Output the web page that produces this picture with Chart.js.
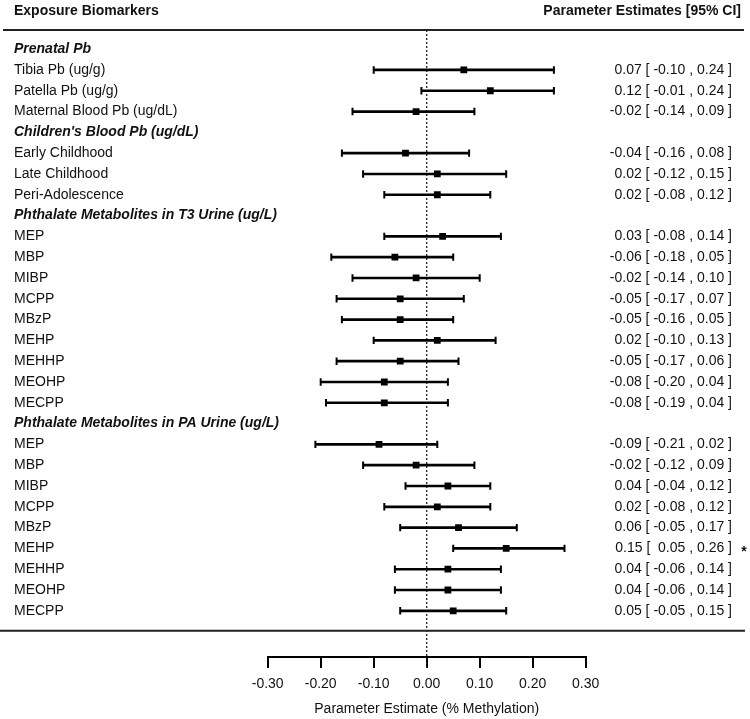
<!DOCTYPE html>
<html>
<head>
<meta charset="utf-8">
<script src="https://cdn.jsdelivr.net/npm/chart.js@4.4.1/dist/chart.umd.min.js"></script>
<style>
  html, body { margin: 0; padding: 0; background: #fff; }
  #wrap { width: 750px; height: 719px; position: relative; }
</style>
</head>
<body>
<div id="wrap"><canvas id="c"></canvas></div>
<script>
// ---------- data ----------
const rowLabels = [
  "Prenatal Pb", "Tibia Pb (ug/g)", "Patella Pb (ug/g)", "Maternal Blood Pb (ug/dL)",
  "Children's Blood Pb (ug/dL)", "Early Childhood", "Late Childhood", "Peri-Adolescence",
  "Phthalate Metabolites in T3 Urine (ug/L)", "MEP", "MBP", "MIBP", "MCPP", "MBzP", "MEHP", "MEHHP", "MEOHP", "MECPP",
  "Phthalate Metabolites in PA Urine (ug/L)", "MEP", "MBP", "MIBP", "MCPP", "MBzP", "MEHP", "MEHHP", "MEOHP", "MECPP"
];
const isHeader = [
  true, false, false, false,
  true, false, false, false,
  true, false, false, false, false, false, false, false, false, false,
  true, false, false, false, false, false, false, false, false, false
];
const estimate = [
  null, 0.07, 0.12, -0.02,
  null, -0.04, 0.02, 0.02,
  null, 0.03, -0.06, -0.02, -0.05, -0.05, 0.02, -0.05, -0.08, -0.08,
  null, -0.09, -0.02, 0.04, 0.02, 0.06, 0.15, 0.04, 0.04, 0.05
];
const lower = [
  null, -0.10, -0.01, -0.14,
  null, -0.16, -0.12, -0.08,
  null, -0.08, -0.18, -0.14, -0.17, -0.16, -0.10, -0.17, -0.20, -0.19,
  null, -0.21, -0.12, -0.04, -0.08, -0.05, 0.05, -0.06, -0.06, -0.05
];
const upper = [
  null, 0.24, 0.24, 0.09,
  null, 0.08, 0.15, 0.12,
  null, 0.14, 0.05, 0.10, 0.07, 0.05, 0.13, 0.06, 0.04, 0.04,
  null, 0.02, 0.09, 0.12, 0.12, 0.17, 0.26, 0.14, 0.14, 0.15
];
const significant = [
  false, false, false, false,
  false, false, false, false,
  false, false, false, false, false, false, false, false, false, false,
  false, false, false, false, false, false, true, false, false, false
];
const xTickValues = [-0.30, -0.20, -0.10, 0.00, 0.10, 0.20, 0.30];
const leftHeader = "Exposure Biomarkers";
const rightHeader = "Parameter Estimates [95% CI]";
const xTitle = "Parameter Estimate (% Methylation)";
const refValue = 0;

// ---------- helpers ----------
const FONT = '"Liberation Sans", Arial, Helvetica, sans-serif';
Chart.defaults.font.family = FONT;
Chart.defaults.font.size = 14;
Chart.defaults.color = '#111';

const ciLabels = rowLabels.map((_, i) =>
  isHeader[i] ? '' : estimate[i].toFixed(2) + ' [ ' + (lower[i] < 0 ? '' : ' ') + lower[i].toFixed(2) + ' , ' + upper[i].toFixed(2) + ' ]'
);

const Y_MIN = -0.92, Y_MAX = 29.22, RULE_BOTTOM = 27.96, REF_BOTTOM = 29.75;
const LEFT_AXIS_W = 253.7, RIGHT_AXIS_W = 146.3;

const ciData = [], capData = [], estData = [];
rowLabels.forEach((_, i) => {
  if (isHeader[i]) return;
  ciData.push({ x: [lower[i], upper[i]], y: i });
  capData.push({ x: lower[i], y: i }, { x: upper[i], y: i });
  estData.push({ x: estimate[i], y: i });
});

const rowTicks = (scale) => { scale.ticks = rowLabels.map((_, i) => ({ value: i })); };

const decor = {
  id: 'decor',
  afterDraw(chart) {
    const { ctx, scales: { y } } = chart;
    ctx.save();
    ctx.fillStyle = '#111';
    ctx.font = 'bold 14px ' + FONT;
    ctx.textBaseline = 'alphabetic';
    ctx.textAlign = 'left';
    ctx.fillText(leftHeader, 14, 14.5);
    ctx.textAlign = 'right';
    ctx.fillText(rightHeader, 741, 14.5);

    ctx.strokeStyle = '#222';
    ctx.lineWidth = 2;
    const yTop = y.getPixelForValue(Y_MIN);
    const yBot = y.getPixelForValue(RULE_BOTTOM);
    ctx.beginPath();
    ctx.moveTo(3, yTop); ctx.lineTo(744, yTop);
    ctx.moveTo(0, yBot); ctx.lineTo(745, yBot);
    ctx.stroke();

    ctx.font = 'bold 14px ' + FONT;
    ctx.textAlign = 'center';
    significant.forEach((s, i) => {
      if (s) ctx.fillText('*', 744, y.getPixelForValue(i) + 7.5);
    });
    ctx.restore();
  }
};

new Chart(document.getElementById('c'), {
  type: 'scatter',
  data: {
    datasets: [
      {
        type: 'scatter',
        data: [{ x: refValue, y: Y_MIN }, { x: refValue, y: REF_BOTTOM }],
        showLine: true,
        borderColor: '#222',
        borderWidth: 1.3,
        borderDash: [2, 2],
        pointRadius: 0,
        clip: false,
        order: 4
      },
      {
        type: 'bar',
        indexAxis: 'y',
        data: ciData,
        backgroundColor: '#000',
        borderWidth: 0,
        barThickness: 2,
        order: 3
      },
      {
        type: 'scatter',
        data: capData,
        pointStyle: 'line',
        rotation: 90,
        pointRadius: 3.7,
        borderColor: '#000',
        borderWidth: 2,
        order: 2
      },
      {
        type: 'scatter',
        data: estData,
        pointStyle: 'rect',
        pointRadius: 4.8,
        backgroundColor: '#000',
        borderColor: '#000',
        borderWidth: 0,
        order: 1
      }
    ]
  },
  options: {
    responsive: true,
    maintainAspectRatio: false,
    animation: false,
    devicePixelRatio: 1,
    events: [],
    layout: { padding: { left: 14, right: 18, top: 30, bottom: 0 } },
    plugins: { legend: { display: false }, tooltip: { enabled: false } },
    scales: {
      x: {
        type: 'linear',
        min: -0.3, max: 0.3,
        offset: false,
        afterBuildTicks: (s) => { s.ticks = xTickValues.map(v => ({ value: v })); },
        afterFit: (s) => { s.height = 62; },
        ticks: {
          callback: (v) => Number(v).toFixed(2),
          autoSkip: false, maxRotation: 0, padding: 8, color: '#111', font: { size: 14 }
        },
        grid: {
          offset: false,
          drawOnChartArea: false, drawTicks: true, tickLength: 11,
          color: '#000', tickColor: '#000', lineWidth: 2, tickWidth: 2
        },
        border: { display: true, color: '#000', width: 2 },
        title: {
          display: true, text: xTitle, color: '#111', font: { size: 14 },
          padding: { top: 0, bottom: 1 }
        }
      },
      y: {
        type: 'linear',
        position: 'left',
        min: Y_MIN, max: Y_MAX, reverse: true,
        offset: false,
        afterBuildTicks: rowTicks,
        afterFit: (s) => { s.width = LEFT_AXIS_W; },
        ticks: {
          autoSkip: false,
          mirror: true,
          crossAlign: 'near',
          padding: -LEFT_AXIS_W,
          color: '#111',
          callback: (v) => rowLabels[Math.round(v)],
          font: (c) => {
            const i = Math.round(c.tick ? c.tick.value : 0);
            return isHeader[i]
              ? { size: 14, weight: 'bold', style: 'italic', family: FONT }
              : { size: 14, weight: 'normal', style: 'normal', family: FONT };
          }
        },
        grid: { display: false, drawTicks: false, offset: false },
        border: { display: false }
      },
      y2: {
        type: 'linear',
        position: 'right',
        min: Y_MIN, max: Y_MAX, reverse: true,
        offset: false,
        afterBuildTicks: rowTicks,
        afterFit: (s) => { s.width = RIGHT_AXIS_W; },
        ticks: {
          autoSkip: false,
          crossAlign: 'far',
          color: '#111',
          font: { size: 14 },
          callback: (v) => ciLabels[Math.round(v)]
        },
        grid: { display: false, drawTicks: false },
        border: { display: false }
      }
    }
  },
  plugins: [decor]
});
</script>
</body>
</html>
